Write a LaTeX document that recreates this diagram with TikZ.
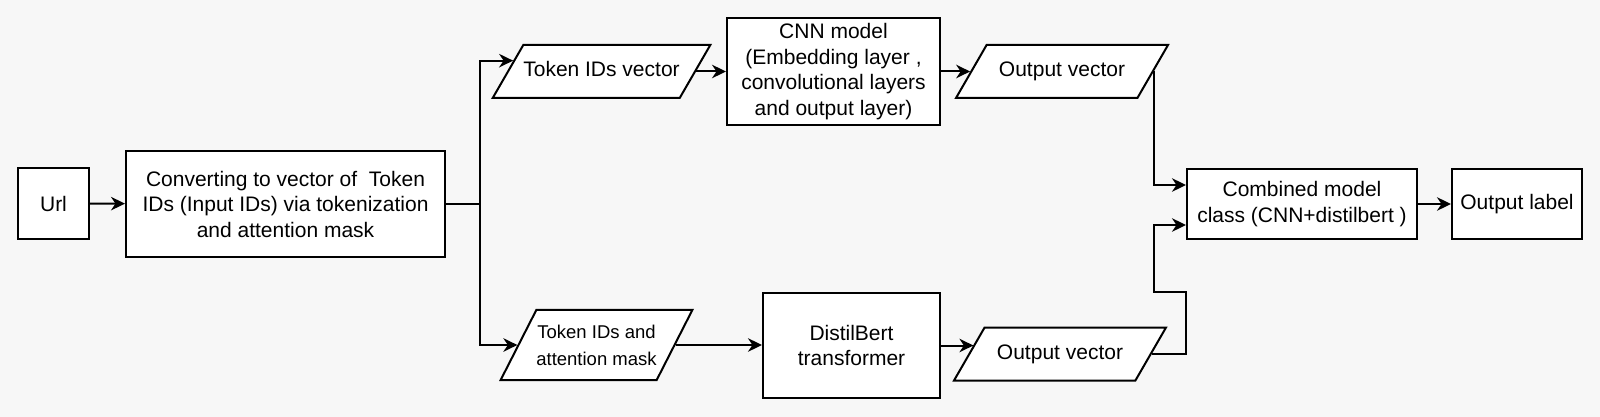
\documentclass[tikz,border=0pt]{standalone}
\usepackage{fontspec}
\setmainfont{Liberation Sans}
\usetikzlibrary{shapes.geometric,arrows.meta,calc}
\definecolor{bgc}{HTML}{F7F7F7}
\begin{document}
\begin{tikzpicture}[x=1pt,y=-1pt,
  every node/.style={font=\fontsize{21}{25.5}\selectfont, line width=2pt},
  box/.style={draw, fill=white, rectangle, align=center, inner sep=0pt},
  parabase/.style={draw, fill=white, trapezium, trapezium stretches body=true, align=center, inner xsep=0pt},
  para/.style={parabase, trapezium left angle=60, trapezium right angle=120, inner ysep=16.5pt, text height=15.5pt, text depth=4.5pt},
  paratwo/.style={parabase, trapezium left angle=63, trapezium right angle=117, inner ysep=14.75pt, font=\fontsize{18.5}{27}\selectfont},
  conn/.style={line width=2pt},
  arr/.style={conn, -{Stealth[length=14pt,width=13.5pt,inset=4.5pt]}}
]
\useasboundingbox (0,0) rectangle (1600,417);
\fill[bgc] (0,0) rectangle (1600,417);

\node[box, minimum width=71pt, minimum height=71pt] (url) at (53.5,203.5) {Url};
\node[box, minimum width=319pt, minimum height=106pt] (conv) at (285.5,204) {Converting to vector of \ Token\\IDs (Input IDs) via tokenization\\and attention mask};
\node[para, minimum width=213pt] (tv) at (601.5,71.5) {Token IDs vector};
\node[box, minimum width=213pt, minimum height=107pt] (cnn) at (833.5,71.5) {CNN model\\(Embedding layer ,\\convolutional layers\\and output layer)};
\node[para, minimum width=212pt] (ov1) at (1062,71.5) {Output vector};
\node[paratwo, minimum width=191pt] (tam) at (596.5,345) {Token IDs and\\attention mask};
\node[box, minimum width=177pt, minimum height=105pt] (db) at (851.5,345.5) {DistilBert\\transformer};
\node[para, minimum width=212pt] (ov2) at (1060,354) {Output vector};
\node[box, minimum width=230pt, minimum height=70pt] (comb) at (1302,204) {Combined model\\class (CNN+distilbert )};
\node[box, minimum width=130pt, minimum height=70pt] (lab) at (1517,204) {Output label};

\coordinate (sp) at (480,204);

\draw[arr] (url) -- (conv);
\draw[conn] (conv.east) -- (sp);
\draw[arr] (sp) |- (tv.173.7);
\draw[arr] (sp) |- (tam.left side);
\draw[arr] (tv.right side) -- (tv.right side -| cnn.west);
\draw[arr] (cnn.east) -- (cnn.east -| ov1.left side);
\draw[arr] (ov1.right side) |- ($(comb.west)+(0,19pt)$);
\draw[arr] (tam.right side) -- (tam.right side -| db.west);
\draw[arr] (db.east) -- (db.east -| ov2.174);
\draw[arr] (ov2.right side) -- (ov2.right side -| comb.west) -- (comb.west |- db.north) -- (ov1.right side |- db.north) |- ($(comb.west)+(0,-21pt)$);
\draw[arr] (comb) -- (lab);
\end{tikzpicture}
\end{document}
